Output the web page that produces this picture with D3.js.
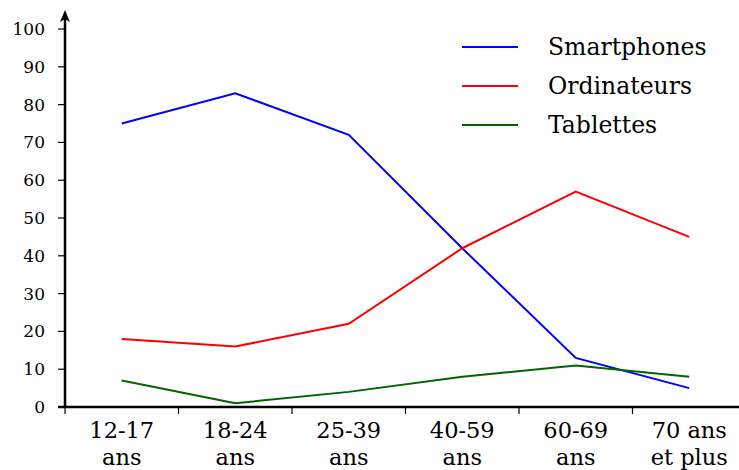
<!DOCTYPE html>
<html>
<head>
<meta charset="utf-8">
<script src="https://cdn.jsdelivr.net/npm/d3@7"></script>
<style>
  body { margin: 0; background: #fff; }
  svg text { font-family: "DejaVu Serif", "Liberation Serif", serif; fill: #000; }
</style>
</head>
<body>
<div id="chart"></div>
<script>
// data
const categories = [["12-17", "ans"], ["18-24", "ans"], ["25-39", "ans"], ["40-59", "ans"], ["60-69", "ans"], ["70 ans", "et plus"]];
const smartphones = [75, 83, 72, 42, 13, 5];
const ordinateurs = [18, 16, 22, 42, 57, 45];
const tablettes = [7, 1, 4, 8, 11, 8];
const yTicks = [0, 10, 20, 30, 40, 50, 60, 70, 80, 90, 100];

const seriesList = [
    {name: "Smartphones", values: smartphones, color: "#0000ff"},
    {name: "Ordinateurs", values: ordinateurs, color: "#ff0000"},
    {name: "Tablettes", values: tablettes, color: "#006400"}
];

const width = 739, height = 470;
const svg = d3.select("#chart").append("svg")
    .attr("width", width)
    .attr("height", height);

const x = d3.scaleBand()
    .domain(categories.map((c, i) => i))
    .range([65, 746])
    .padding(0);

const y = d3.scaleLinear()
    .domain([0, 100])
    .range([407, 29]);

// y axis
svg.append("line")
    .attr("x1", 65).attr("x2", 65)
    .attr("y1", y(0)).attr("y2", 16)
    .attr("stroke", "#000").attr("stroke-width", 2.5);
svg.append("path")
    .attr("d", "M65,10 L60,22 L65,19 L70,22 Z")
    .attr("fill", "#000");

svg.selectAll("line.ytick")
    .data(yTicks.slice(1))
    .enter().append("line")
    .attr("class", "ytick")
    .attr("x1", 58).attr("x2", 65)
    .attr("y1", d => y(d)).attr("y2", d => y(d))
    .attr("stroke", "#000").attr("stroke-width", 1.2);

svg.selectAll("text.ylab")
    .data(yTicks)
    .enter().append("text")
    .attr("class", "ylab")
    .attr("x", 45)
    .attr("y", d => y(d) + 6)
    .attr("text-anchor", "end")
    .attr("font-size", 17)
    .text(d => d);

// x axis
svg.append("line")
    .attr("x1", 58).attr("x2", width)
    .attr("y1", y(0)).attr("y2", y(0))
    .attr("stroke", "#000").attr("stroke-width", 2.5);

svg.selectAll("line.xtick")
    .data(categories.map((c, i) => i))
    .enter().append("line")
    .attr("class", "xtick")
    .attr("x1", d => x(d)).attr("x2", d => x(d))
    .attr("y1", y(0)).attr("y2", y(0) + 7)
    .attr("stroke", "#000").attr("stroke-width", 1.2);

let xlab = svg.selectAll("text.xlab")
    .data(categories)
    .enter().append("text")
    .attr("class", "xlab")
    .attr("text-anchor", "middle")
    .attr("font-size", 22.5);
xlab.append("tspan")
    .attr("x", (d, i) => x(i) + x.bandwidth() / 2)
    .attr("y", 438)
    .text(d => d[0]);
xlab.append("tspan")
    .attr("x", (d, i) => x(i) + x.bandwidth() / 2)
    .attr("y", 465)
    .text(d => d[1]);

// lines
const line = d3.line()
    .x((d, i) => x(i) + x.bandwidth() / 2)
    .y(d => y(d));

svg.selectAll("path.series")
    .data(seriesList)
    .enter().append("path")
    .attr("class", "series")
    .attr("d", d => line(d.values))
    .attr("fill", "none")
    .attr("stroke", d => d.color)
    .attr("stroke-width", 2);

// legend
let legend = svg.selectAll("g.legend")
    .data(seriesList)
    .enter().append("g")
    .attr("class", "legend")
    .attr("transform", (d, i) => "translate(462," + (47 + i * 39) + ")");
legend.append("line")
    .attr("x1", 0).attr("x2", 56)
    .attr("stroke", d => d.color)
    .attr("stroke-width", 2);
legend.append("text")
    .attr("x", 86)
    .attr("y", 8)
    .attr("font-size", 23.5)
    .text(d => d.name);
</script>
</body>
</html>
